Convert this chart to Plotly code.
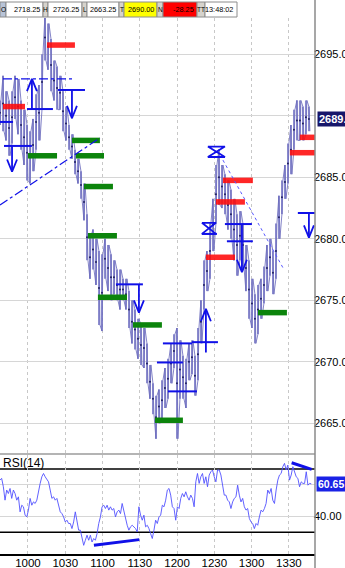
import numpy as np
import plotly.graph_objects as go

# ---------------- DATA ----------------
# price samples (~2.4 min apart) from 09:37:30 to ~13:46 : high / low
price_high = [2691.25, 2693.25, 2692.0, 2691.25, 2692.0, 2693.25, 2693.0, 2691.25, 2690.5, 2689.25,
              2688.75, 2689.75, 2691.75, 2692.5, 2695.0, 2698.25, 2697.5, 2696.25, 2694.5, 2694.0,
              2693.25, 2692.0, 2690.75, 2689.25, 2688.5, 2687.25, 2686.5, 2685.5, 2684.5, 2682.0,
              2680.25, 2680.75, 2680.0, 2679.0, 2678.75, 2680.0, 2679.5, 2678.75, 2678.25, 2677.5,
              2677.5, 2676.75, 2676.75, 2675.75, 2675.0, 2674.25, 2673.5, 2673.0, 2672.75, 2671.5,
              2669.75, 2668.25, 2667.25, 2667.75, 2668.5, 2669.5, 2670.25, 2671.5, 2672.25, 2672.75,
              2671.75, 2670.5, 2670.25, 2671.5, 2671.75, 2670.5, 2672.75, 2675.0, 2678.25, 2679.0,
              2681.25, 2683.25, 2686.0, 2687.25, 2686.0, 2685.25, 2684.75, 2684.0, 2683.25, 2682.0,
              2682.25, 2681.25, 2679.5, 2678.25, 2676.75, 2675.5, 2676.25, 2676.75, 2677.75, 2679.5,
              2680.0, 2679.0, 2681.25, 2683.5, 2684.75, 2686.0, 2687.75, 2689.25, 2690.5, 2691.25,
              2691.25, 2690.75, 2691.25, 2690.75]
price_low = [2689.25, 2688.75, 2688.0, 2686.75, 2687.75, 2689.75, 2688.5, 2687.25, 2686.0, 2684.75,
             2684.5, 2685.5, 2687.25, 2688.0, 2690.5, 2694.5, 2693.75, 2692.0, 2691.25, 2690.5,
             2690.5, 2688.75, 2688.0, 2687.25, 2686.5, 2685.25, 2684.5, 2683.25, 2681.5, 2678.25,
             2676.75, 2677.5, 2676.25, 2673.0, 2672.5, 2676.75, 2675.75, 2675.0, 2675.5, 2675.0,
             2674.25, 2675.0, 2674.25, 2672.75, 2671.5, 2671.0, 2670.25, 2669.75, 2669.5, 2668.25,
             2667.0, 2665.75, 2663.75, 2665.0, 2665.25, 2666.25, 2667.0, 2668.25, 2669.5, 2663.75,
             2667.0, 2667.0, 2666.25, 2668.5, 2669.0, 2667.25, 2668.5, 2671.5, 2674.25, 2675.75,
             2676.75, 2679.0, 2681.25, 2682.75, 2682.5, 2682.0, 2680.75, 2680.0, 2678.25, 2677.0,
             2678.25, 2677.75, 2675.75, 2673.5, 2672.75, 2671.5, 2672.25, 2673.5, 2674.75, 2675.75,
             2677.0, 2675.5, 2676.75, 2680.0, 2682.0, 2683.25, 2684.5, 2685.25, 2687.25, 2688.0,
             2688.0, 2688.0, 2688.5, 2688.75]
price_first_min, price_last_min = 577.5, 826.1   # minutes since midnight
last_price = "2689.75"

# RSI(14)
rsi_values = [63.0, 64.1, 58.8, 50.3, 56.7, 54.5, 57.7, 51.4, 56.7, 54.5, 50.3, 52.4, 42.9, 47.1, 46.1,
              40.8, 39.7, 44.0, 51.4, 47.1, 49.2, 48.2, 50.3, 56.7, 60.9, 65.1, 67.2, 65.1, 63.0, 61.9,
              56.7, 51.4, 52.4, 50.3, 51.4, 47.1, 42.9, 41.8, 39.7, 36.5, 37.6, 35.5, 35.5, 32.3, 36.5,
              42.9, 37.6, 31.3, 31.3, 27.0, 21.7, 24.9, 28.1, 24.9, 28.1, 23.8, 26.0, 24.9, 29.1, 35.5,
              39.7, 46.1, 47.1, 45.0, 47.1, 44.0, 46.1, 44.0, 45.0, 39.7, 42.9, 44.0, 41.8, 48.2, 42.9,
              39.7, 34.4, 31.3, 33.4, 34.4, 33.4, 32.3, 30.2, 46.1, 40.8, 37.6, 40.8, 33.4, 34.4, 32.3,
              29.1, 26.0, 31.3, 37.6, 35.5, 39.7, 40.8, 47.1, 46.1, 50.3, 56.7, 57.7, 53.5, 46.1, 45.0,
              37.6, 46.1, 45.0, 51.4, 54.5, 52.4, 55.6, 52.4, 50.3, 53.5, 51.4, 46.1, 61.9, 67.2, 60.9,
              65.1, 67.2, 60.9, 65.1, 58.8, 66.2, 68.3, 69.4, 65.1, 61.9, 69.4, 69.4, 66.2, 58.8, 53.5,
              53.5, 50.3, 49.2, 45.0, 49.2, 51.4, 52.4, 59.8, 53.5, 49.2, 51.4, 46.1, 44.0, 45.0, 38.7,
              36.5, 35.5, 32.3, 35.5, 34.4, 39.7, 44.0, 42.9, 45.0, 48.2, 56.7, 54.5, 57.7, 50.3, 48.2,
              56.7, 63.0, 66.2, 67.2, 71.5, 73.6, 69.4, 72.5, 63.0, 66.2, 71.5, 68.3, 65.1, 64.1, 58.8,
              61.9, 60.9, 60.9, 68.3, 59.8, 60.9, 60.65]
rsi_first_min, rsi_last_min = 577.5, 828.0
rsi_last = "60.65"
rsi_bands = [30, 70]
rsi_ticks = [40, 60]

# hand-drawn levels: (start minute, end minute, price)
red_levels = [(615.3, 637.8, 2695.75), (579.9, 597.6, 2690.75), (756.9, 781.0, 2684.75),
              (751.3, 774.6, 2683.0), (743.2, 766.6, 2678.5), (818.8, 831.0, 2688.25),
              (810.8, 831.0, 2687.0)]
green_levels = [(635.4, 657.9, 2688.0), (600.0, 623.4, 2686.75), (638.6, 661.2, 2686.75),
                (645.1, 668.4, 2684.25), (648.3, 671.6, 2680.25), (656.3, 679.7, 2675.25),
                (684.5, 707.8, 2673.0), (702.2, 724.7, 2665.25), (785.1, 808.4, 2674.0)]
blue_levels = [(577.5, 588.0, 2689.5), (599.2, 620.1, 2690.55), (624.2, 645.9, 2692.1),
               (580.7, 603.2, 2687.55), (670.8, 692.5, 2676.3), (708.6, 732.0, 2671.5),
               (703.8, 724.7, 2669.95), (712.7, 736.0, 2667.6), (732.0, 752.9, 2671.6),
               (740.0, 752.1, 2680.4), (758.5, 780.2, 2681.2), (760.1, 781.0, 2679.8),
               (817.2, 831.0, 2682.1)]
# arrows: (minute, price from, price to)
arrows = [(587.2, 2687.55, 2685.45), (603.2, 2690.55, 2693.0), (635.4, 2692.1, 2689.8),
          (689.3, 2676.3, 2674.0), (743.2, 2670.75, 2674.3), (772.2, 2681.2, 2677.3),
          (826.1, 2682.1, 2680.1)]
# hourglass marks: (start, end, low price, high price)
hourglasses = [(744.8, 758.5, 2686.65, 2687.5), (740.0, 751.3, 2680.4, 2681.3)]
# dash-dot trend lines: (t0, p0, t1, p1)
dashdot_lines = [(579.9, 2693.0, 636.2, 2693.0), (577.5, 2682.75, 657.9, 2688.2)]
dotted_lines = [(756.9, 2686.4, 805.2, 2677.65)]
# RSI divergence lines
rsi_div = [(653.1, 21.7, 689.6, 25.3), (812.2, 74.0, 828.3, 69.8)]

tick_minutes = [600, 630, 660, 690, 720, 750, 780, 810]
tick_labels = ["1000", "1030", "1100", "1130", "1200", "1230", "1300", "1330"]
price_ticks = [2665, 2670, 2675, 2680, 2685, 2690, 2695]

header_labels = ["O", "H", "L", "T", "N", "TT"]
header_values = ["2718.25", "2726.25", "2663.25", "2690.00", "-28.25", "13:48:02"]
header_fills = ["white", "white", "white", "#ffff00", "#ff0000", "white"]

# ---------------- STYLE / LAYOUT ----------------
W, H = 345, 568
XR = [577.5, 831.0]
PLOT_R = 315 / W
FONT = "Liberation Sans, Arial"
BLUE = "#1010e8"

def py(p):  # pixel y -> paper
    return 1 - p / H

fig = go.Figure()

# price band: vertical high-low bars
pt = np.linspace(price_first_min, price_last_min, len(price_high))
bx, by = [], []
for t, h, l in zip(pt, price_high, price_low):
    bx += [t, t, None]
    by += [l, h, None]
fig.add_trace(go.Scatter(x=bx, y=by, mode="lines", line=dict(color="rgba(118,118,196,0.85)", width=1.9),
                         hoverinfo="skip", xaxis="x", yaxis="y"))
# zigzag path through highs / lows
zx, zy = [], []
for i, (t, h, l) in enumerate(zip(pt, price_high, price_low)):
    if i % 2 == 0:
        zx += [t, t + 0.8]; zy += [l, h]
    else:
        zx += [t, t + 0.8]; zy += [h, l]
fig.add_trace(go.Scatter(x=zx, y=zy, mode="lines", line=dict(color="rgba(110,110,190,0.85)", width=1),
                         hoverinfo="skip", xaxis="x", yaxis="y"))
mid = [(h + l) / 2 for h, l in zip(price_high, price_low)]
fig.add_trace(go.Scatter(x=pt, y=mid, mode="markers", marker=dict(color="#202060", size=2),
                         hoverinfo="skip", xaxis="x", yaxis="y"))

def seg_trace(levels, color, width, opacity=1.0, dash=None):
    xs, ys = [], []
    for t0, t1, p in levels:
        xs += [t0, t1, None]
        ys += [p, p, None]
    fig.add_trace(go.Scatter(x=xs, y=ys, mode="lines", opacity=opacity,
                             line=dict(color=color, width=width, dash=dash),
                             hoverinfo="skip", xaxis="x", yaxis="y"))

seg_trace(red_levels, "#ff0a0a", 5.5, 0.88)
seg_trace(green_levels, "#0c840c", 5.5)
seg_trace(blue_levels, BLUE, 2)

# arrows
ax, ay = [], []
HW, HH = 4.0, 1.0
for t, p0, p1 in arrows:
    s = 1 if p1 > p0 else -1
    ax += [t, t, None, t - HW, t, t + HW, None]
    ay += [p0, p1, None, p1 - s * HH, p1, p1 - s * HH, None]
# hourglasses
for t0, t1, lo, hi in hourglasses:
    ax += [t0, t1, t0, t1, t0, None]
    ay += [hi, hi, lo, lo, hi, None]
fig.add_trace(go.Scatter(x=ax, y=ay, mode="lines", line=dict(color=BLUE, width=1.8),
                         hoverinfo="skip", xaxis="x", yaxis="y"))

for t0, p0, t1, p1 in dashdot_lines:
    fig.add_trace(go.Scatter(x=[t0, t1], y=[p0, p1], mode="lines",
                             line=dict(color=BLUE, width=1.2, dash="dashdot"),
                             hoverinfo="skip", xaxis="x", yaxis="y"))
for t0, p0, t1, p1 in dotted_lines:
    fig.add_trace(go.Scatter(x=[t0, t1], y=[p0, p1], mode="lines",
                             line=dict(color="#5a5aff", width=1, dash="dot"),
                             hoverinfo="skip", xaxis="x", yaxis="y"))

# RSI
rt = np.linspace(rsi_first_min, rsi_last_min, len(rsi_values))
fig.add_trace(go.Scatter(x=rt, y=rsi_values, mode="lines", line=dict(color="#5050ff", width=0.9),
                         hoverinfo="skip", xaxis="x2", yaxis="y2"))
for t0, r0, t1, r1 in rsi_div:
    fig.add_trace(go.Scatter(x=[t0, t1], y=[r0, r1], mode="lines", line=dict(color=BLUE, width=3),
                             hoverinfo="skip", xaxis="x2", yaxis="y2"))

shapes = []
for b in rsi_bands:
    shapes.append(dict(type="line", xref="paper", x0=0, x1=PLOT_R, yref="y2", y0=b, y1=b,
                       line=dict(color="black", width=1.5), layer="below"))
# right axis line
shapes.append(dict(type="line", xref="paper", yref="paper", x0=PLOT_R, x1=PLOT_R, y0=0, y1=1,
                   line=dict(color="#8a8a8a", width=1.5)))

annotations = []
# header cells
label_cells = [(0, 6), (43, 48), (82, 87), (119, 124), (157, 163), (197, 205)]
value_cells = [(6, 43), (48, 82), (87, 119), (124, 157), (163, 197), (205, 237)]
for i, lab in enumerate(header_labels):
    l0, l1 = label_cells[i]
    v0, v1 = value_cells[i]
    shapes.append(dict(type="rect", xref="paper", yref="paper", x0=l0 / W, x1=l1 / W,
                       y0=py(17), y1=py(2), fillcolor="#b8c4d8" if i == 0 else "#d6d3cc",
                       line=dict(color="#8c8c8c", width=1)))
    shapes.append(dict(type="rect", xref="paper", yref="paper", x0=v0 / W, x1=v1 / W,
                       y0=py(17), y1=py(2), fillcolor=header_fills[i],
                       line=dict(color="#8c8c8c", width=1)))
    annotations.append(dict(text=lab, xref="paper", yref="paper", x=(l0 + l1) / 2 / W, y=py(9.5),
                            xanchor="center", yanchor="middle", showarrow=False,
                            font=dict(family=FONT, size=6.5, color="black")))
    annotations.append(dict(text=header_values[i], xref="paper", yref="paper", x=(v1 - 1.5) / W,
                            y=py(9.5), xanchor="right", yanchor="middle", showarrow=False,
                            font=dict(family=FONT, size=7.3, color="black")))

# last price box
annotations.append(dict(text="<b>" + last_price + "</b>", xref="paper", yref="y", x=(PLOT_R * W + 1.5) / W,
                        y=float(last_price), xanchor="left", yanchor="middle", showarrow=False,
                        bgcolor="#16166a", font=dict(family=FONT, size=11, color="white"),
                        borderpad=1))
annotations.append(dict(text="<b>" + rsi_last + "</b>", xref="paper", yref="y2", x=(PLOT_R * W + 1) / W,
                        y=float(rsi_last), xanchor="left", yanchor="middle", showarrow=False,
                        bgcolor="#1a22e6", font=dict(family=FONT, size=10.5, color="white"),
                        borderpad=1))
annotations.append(dict(text="RSI(14)", xref="paper", yref="paper", x=1 / W, y=py(463),
                        xanchor="left", yanchor="middle", showarrow=False,
                        font=dict(family=FONT, size=12, color="black")))

# tick labels hidden where the value boxes sit
price_tick_text = ["" if abs(v - float(last_price)) < 1.5 else f"{v:.1f}" for v in price_ticks]
rsi_tick_text = ["" if abs(v - float(rsi_last)) < 5 else f"{v:.2f}" for v in rsi_ticks]

main_top, main_bot = 18, 453
rsi_top, rsi_bot = 455, 554
fig.update_layout(
    width=W, height=H, margin=dict(l=0, r=0, t=0, b=0, autoexpand=False),
    paper_bgcolor="white", plot_bgcolor="white", showlegend=False,
    xaxis=dict(domain=[0, PLOT_R], range=XR, anchor="y", showticklabels=False, automargin=False,
               tickvals=tick_minutes, showgrid=True, gridcolor="#c8c8c8", griddash="dot",
               gridwidth=1, zeroline=False, showline=True, linecolor="#b4b4b4", linewidth=1.5,
               ticks=""),
    xaxis2=dict(domain=[0, PLOT_R], range=XR, anchor="y2", matches="x", automargin=False,
                tickvals=tick_minutes, ticktext=tick_labels, showgrid=True, gridcolor="#c8c8c8",
                griddash="dot", gridwidth=1, zeroline=False, showline=True, linecolor="black",
                linewidth=1.5, ticks="", ticklen=0, ticklabelstandoff=-3,
                tickfont=dict(family=FONT, size=11.5, color="black")),
    yaxis=dict(domain=[py(main_bot), py(main_top)], range=[2662.59, 2697.95], side="right",
               anchor="x", tickvals=price_ticks, ticktext=price_tick_text, automargin=False,
               showgrid=True, gridcolor="#d6d6d6", gridwidth=1, zeroline=False, ticks="",
               ticklen=0, ticklabelstandoff=-2,
               tickfont=dict(family=FONT, size=11, color="black")),
    yaxis2=dict(domain=[py(rsi_bot), py(rsi_top)], range=[16.2, 78.9], side="right", anchor="x2",
                tickvals=rsi_ticks, ticktext=rsi_tick_text, showgrid=True, gridcolor="#d6d6d6",
                automargin=False, zeroline=False, ticks="", ticklen=0, ticklabelstandoff=-2,
                tickfont=dict(family=FONT, size=11, color="black")),
    shapes=shapes, annotations=annotations,
)

fig.write_html("out.html")
